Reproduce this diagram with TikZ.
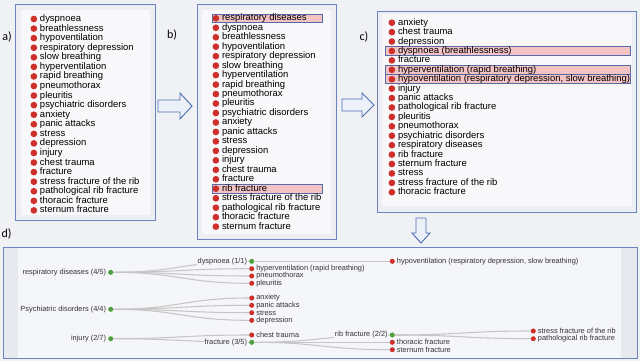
\documentclass[tikz,border=0pt]{standalone}
\usepackage{fontspec}
\setmainfont{Liberation Sans}
\newfontfamily\tagfont{Carlito}
\definecolor{PageGray}{RGB}{240,241,245}
\definecolor{FrameBlue}{RGB}{108,132,190}
\definecolor{ArrowBlue}{RGB}{80,110,180}
\definecolor{ArrowFill}{RGB}{236,240,248}
\definecolor{PanelGray}{RGB}{236,238,243}
\definecolor{ListWhite}{RGB}{248,248,250}
\definecolor{BandGray}{RGB}{231,233,238}
\definecolor{TreeBg}{RGB}{245,246,249}
\definecolor{DotRed}{RGB}{205,48,42}
\definecolor{DotGreen}{RGB}{78,160,62}
\definecolor{MarkPink}{RGB}{244,196,196}
\definecolor{MarkBlue}{RGB}{86,106,170}
\definecolor{LinkGray}{RGB}{198,198,198}
\pgfdeclarelayer{back}
\pgfdeclarelayer{links}
\pgfsetlayers{back,links,main}

\begin{document}
\begin{tikzpicture}[
    x=0.75pt, y=-0.75pt,
    panellabel/.style={font=\tagfont\fontsize{9}{10}\selectfont, text=black, inner sep=0pt},
    panelbox/.style={draw=FrameBlue, line width=0.75pt, fill=PanelGray},
    blockarrow/.style={draw=ArrowBlue, line width=0.7pt, fill=ArrowFill, line join=miter},
    listentry/.style={
      font=\fontsize{7.1}{8}\selectfont, text=black, inner sep=0pt, outer sep=0pt,
      text height=5.3pt, text depth=1.6pt, anchor=west
    },
    hilite/.style={rectangle, draw=MarkBlue, fill=MarkPink, line width=0.6pt,
      minimum height=6.6pt, inner sep=0pt, anchor=west},
    treetext/.style={font=\fontsize{5.55}{6}\selectfont, text=black!80, inner sep=0.6pt, fill=TreeBg},
    parentdot/.style={circle, fill=DotGreen, inner sep=0pt, minimum size=3.8pt},
    leafdot/.style={circle, fill=DotRed, inner sep=0pt, minimum size=3.8pt},
    lefttext/.style={treetext, anchor=east, xshift=-0.6pt},
    righttext/.style={treetext, anchor=west, xshift=0.6pt},
    linkline/.style={draw=LinkGray, line width=0.8pt, out=0, in=180, looseness=1.2}
  ]
    \begin{pgfonlayer}{back}
      \fill[PageGray] (0,0) rectangle (640,361);
      \draw[panelbox] (15.5,4.7) rectangle (155,220.5);
      \fill[ListWhite] (21,10) rectangle (150,215);
      \draw[panelbox] (197.3,4.7) rectangle (336.5,239.3);
      \fill[ListWhite] (202,10) rectangle (331,234);
      \draw[panelbox] (377,11) rectangle (636.7,212);
      \fill[ListWhite] (382,14) rectangle (632,206);
      \fill[TreeBg] (3,247) rectangle (637,358.5);
      \fill[BandGray] (3,247) rectangle (18,358.5);
      \fill[BandGray] (621,247) rectangle (637,358.5);
      \draw[FrameBlue, line width=0.75pt] (3,247) rectangle (637,358.5);
    \end{pgfonlayer}

    \node[panellabel] (taga) at (7,36.5) {a)};
    \node[panellabel] (tagb) at (172,35) {b)};
    \node[panellabel] (tagc) at (364,37) {c)};
    \node[panellabel] (tagd) at (6.5,234) {d)};

    \draw[blockarrow] (158,100) -- (180,100) -- (180,93) -- (192,106) -- (180,119) -- (180,112) -- (158,112) -- cycle;
    \draw[blockarrow] (342,99) -- (362,99) -- (362,93) -- (374,105) -- (362,117) -- (362,111) -- (342,111) -- cycle;
    \draw[blockarrow] (416,218) -- (426,218) -- (426,233) -- (430,233) -- (421,243) -- (412,233) -- (416,233) -- cycle;

    \foreach \txt [count=\i] in {dyspnoea, breathlessness, hypoventilation, respiratory depression,
        slow breathing, hyperventilation, rapid breathing, pneumothorax, pleuritis,
        psychiatric disorders, anxiety, panic attacks, stress, depression, injury,
        chest trauma, fracture, stress fracture of the rib, pathological rib fracture,
        thoracic fracture, sternum fracture}{
      \node[listentry] (a\i) at (40,{19+9.57*(\i-1)}) {\txt};
      \fill[DotRed] ([xshift=-4.6pt]a\i.west) circle (2.5pt);
    }

    \foreach \txt [count=\i] in {respiratory diseases, dyspnoea, breathlessness, hypoventilation,
        respiratory depression, slow breathing, hyperventilation, rapid breathing, pneumothorax,
        pleuritis, psychiatric disorders, anxiety, panic attacks, stress, depression, injury,
        chest trauma, fracture, rib fracture, stress fracture of the rib,
        pathological rib fracture, thoracic fracture, sternum fracture}{
      \node[listentry] (b\i) at (222,{18.3+9.47*(\i-1)}) {\txt};
    }

    \foreach \txt [count=\i] in {anxiety, chest trauma, depression, dyspnoea (breathlessness),
        fracture, hyperventilation (rapid breathing),
        {hypoventilation (respiratory depression, slow breathing)}, injury, panic attacks,
        pathological rib fracture, pleuritis, pneumothorax, psychiatric disorders,
        respiratory diseases, rib fracture, sternum fracture, stress,
        stress fracture of the rib, thoracic fracture}{
      \node[listentry] (c\i) at (398,{22.7+9.42*(\i-1)}) {\txt};
    }

    \begin{pgfonlayer}{back}
      \node[hilite, minimum width=82pt] (hlresp) at ([xshift=-7.3pt]b1.west) {};
      \node[hilite, minimum width=82pt] (hlrib) at ([xshift=-7.3pt]b19.west) {};
      \node[hilite, minimum width=183.75pt] (hldysp) at ([xshift=-9.75pt]c4.west) {};
      \node[hilite, minimum width=183.75pt] (hlhyper) at ([xshift=-9.75pt]c6.west) {};
      \node[hilite, minimum width=183.75pt] (hlhypo) at ([xshift=-9.75pt]c7.west) {};
    \end{pgfonlayer}

    \foreach \i in {1,...,23}
      \fill[DotRed] ([xshift=-4.6pt]b\i.west) circle (2.5pt);
    \foreach \i in {1,...,19}
      \fill[DotRed] ([xshift=-4.6pt]c\i.west) circle (2.5pt);

    \node[parentdot] (resp) at (110.7,272.3) {};
    \node[parentdot] (dysp) at (251.7,261.3) {};
    \node[leafdot] (hyper) at (251.7,268.7) {};
    \node[leafdot] (pneumo) at (251.7,276) {};
    \node[leafdot] (pleu) at (251.7,283.3) {};
    \node[leafdot] (hypo) at (392.3,261.3) {};
    \node[parentdot] (psych) at (110.7,309.3) {};
    \node[leafdot] (anx) at (251.7,298) {};
    \node[leafdot] (panic) at (251.7,305.3) {};
    \node[leafdot] (stress) at (251.7,312.7) {};
    \node[leafdot] (depr) at (251.7,320.3) {};
    \node[parentdot] (inj) at (110.7,338.7) {};
    \node[leafdot] (chest) at (251.7,335) {};
    \node[parentdot] (frac) at (251.7,342.3) {};
    \node[parentdot] (rib) at (392.3,335) {};
    \node[leafdot] (thor) at (392.3,342.3) {};
    \node[leafdot] (stern) at (392.3,349.7) {};
    \node[leafdot] (sfrib) at (533.3,331) {};
    \node[leafdot] (prib) at (533.3,338.7) {};

    \node[lefttext] (resp-txt) at (resp.west) {respiratory diseases (4/5)};
    \node[lefttext] (dysp-txt) at (dysp.west) {dyspnoea (1/1)};
    \node[righttext] (hyper-txt) at (hyper.east) {hyperventilation (rapid breathing)};
    \node[righttext] (pneumo-txt) at (pneumo.east) {pneumothorax};
    \node[righttext] (pleu-txt) at (pleu.east) {pleuritis};
    \node[righttext] (hypo-txt) at (hypo.east) {hypoventilation (respiratory depression, slow breathing)};
    \node[lefttext] (psych-txt) at (psych.west) {Psychiatric disorders (4/4)};
    \node[righttext] (anx-txt) at (anx.east) {anxiety};
    \node[righttext] (panic-txt) at (panic.east) {panic attacks};
    \node[righttext] (stress-txt) at (stress.east) {stress};
    \node[righttext] (depr-txt) at (depr.east) {depression};
    \node[lefttext] (inj-txt) at (inj.west) {injury (2/7)};
    \node[righttext] (chest-txt) at (chest.east) {chest trauma};
    \node[lefttext] (frac-txt) at (frac.west) {fracture (3/5)};
    \node[lefttext] (rib-txt) at (rib.west) {rib fracture (2/2)};
    \node[righttext] (thor-txt) at (thor.east) {thoracic fracture};
    \node[righttext] (stern-txt) at (stern.east) {sternum fracture};
    \node[righttext] (sfrib-txt) at (sfrib.east) {stress fracture of the rib};
    \node[righttext] (prib-txt) at (prib.east) {pathological rib fracture};

    \begin{pgfonlayer}{links}
      \draw[linkline] (resp) to (dysp);
      \draw[linkline] (resp) to (hyper);
      \draw[linkline] (resp) to (pneumo);
      \draw[linkline] (resp) to (pleu);
      \draw[linkline] (dysp) to (hypo);
      \draw[linkline] (psych) to (anx);
      \draw[linkline] (psych) to (panic);
      \draw[linkline] (psych) to (stress);
      \draw[linkline] (psych) to (depr);
      \draw[linkline] (inj) to (chest);
      \draw[linkline] (inj) to (frac);
      \draw[linkline] (frac) to (rib);
      \draw[linkline] (frac) to (thor);
      \draw[linkline] (frac) to (stern);
      \draw[linkline] (rib) to (sfrib);
      \draw[linkline] (rib) to (prib);
    \end{pgfonlayer}
  \end{tikzpicture}
\end{document}
